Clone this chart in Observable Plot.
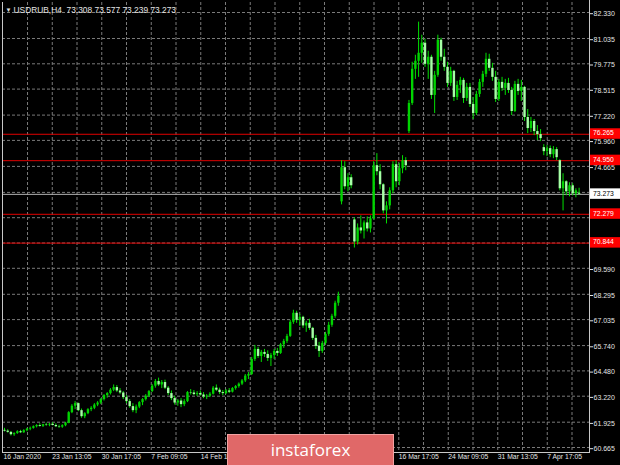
<!DOCTYPE html>
<html><head><meta charset="utf-8">
<script src="https://cdn.jsdelivr.net/npm/d3@7"></script>
<script src="https://cdn.jsdelivr.net/npm/@observablehq/plot@0.6"></script>
<style>
html,body{margin:0;padding:0;background:#000;}
#wrap{position:relative;width:620px;height:465px;overflow:hidden;background:#000;}
#wrap svg{position:absolute;left:0;top:0;}
#logo{position:absolute;left:227px;top:434px;width:167px;height:34px;background:#e06868;border:1px solid #f2a2a2;box-sizing:border-box;color:#fff;font:400 17px "Open Sans",sans-serif;text-align:center;line-height:29px;z-index:2;}
</style></head><body><div id="wrap"><div id="logo">instaforex</div></div>
<script>
const opens=[61.52,61.48,61.42,61.30,61.36,61.45,61.40,61.50,61.58,
61.62,61.70,61.76,61.72,61.80,61.78,61.82,61.76,61.70,61.68,61.75,
61.88,62.40,62.72, 62.85,62.50,62.20, 62.35,62.55,62.62,62.78,
62.88,63.05,63.25,63.35,63.52,63.65, 63.48,63.38,63.15,62.95,62.70,62.50,
62.68,62.90,63.05,63.22, 63.45,63.72,63.95,63.78,63.90,
63.62,63.35,63.10,62.88,62.98,62.80, 62.95,63.40,63.38,63.30,63.35,63.28,63.18,63.22,
63.32,63.62,63.52,63.40,63.35,63.48, 63.42,63.60,63.70,63.82,63.98,64.22,
64.30,65.05, 65.55,65.20,65.40,65.30,65.10,65.25, 65.45,65.35,65.78,65.95,
66.20,66.90,67.35,67.00, 67.15,66.72,66.85, 66.60,66.10,65.70, 65.45,65.85,66.30,
66.75,67.20,67.85, 72.90,74.60,73.65,74.10, 72.00,70.90, 71.60,71.45,71.85,71.55,
72.05,74.70,74.40, 73.75,72.45,72.70, 73.45,74.75,73.90,74.55,74.95,
76.40,77.80,79.50, 79.90, 80.30,80.80,79.75, 80.10,78.20, 79.20,80.95,80.10,
79.60,78.80, 79.40,78.10, 78.70,78.95,78.05, 78.60,77.75,77.30, 78.25,78.85,79.25,
80.00,79.55, 79.10,78.00, 78.85,78.55,78.80, 78.45,77.40, 78.75,78.40, 78.60,77.10,
76.55,76.90,76.40,76.25, 75.60,75.40,75.55,75.25,75.50, 74.95,73.55,73.90,73.40,73.70,73.30,73.308];
const highs=[61.62,61.55,61.46,61.40,61.50,61.52,61.55,61.62,61.68,
61.74,61.80,61.85,61.82,61.88,61.86,61.90,61.84,61.78,61.80,61.92,
62.45,62.80,62.95, 62.88,62.58,62.40, 62.60,62.70,62.85,62.95,
63.10,63.30,63.40,63.60,63.78,63.75, 63.60,63.45,63.25,63.05,62.85,62.78,
62.95,63.10,63.30,63.50, 63.80,64.05,64.12,64.00,64.02,
63.70,63.48,63.22,63.05,63.10,63.05, 63.45,63.55,63.50,63.45,63.48,63.40,63.30,63.40,
63.70,63.78,63.62,63.50,63.55,63.60, 63.65,63.75,63.88,64.05,64.30,64.40,
65.15,65.75, 65.65,65.50,65.55,65.48,65.35,65.55, 65.60,65.85,66.05,66.30,
67.00,67.50,67.45,67.30, 67.20,66.95,67.05, 66.65,66.25,65.90, 65.95,66.40,66.90,
67.30,67.95,68.40, 74.95,74.90,74.30,74.25, 72.10,71.80, 72.20,71.95,72.15,72.20,
74.90,75.30,74.75, 73.80,72.90,73.60, 74.90,74.95,74.80,75.20,75.10,
77.95,79.85,80.20, 81.85, 81.20,81.00,80.40, 80.20,79.40, 81.20,81.05,80.50,
79.85,79.60, 79.45,78.90, 79.10,79.05,78.80, 78.80,78.10,78.40, 79.00,79.40,80.30,
80.25,79.80, 79.40,79.00, 79.10,79.00,79.05, 78.60,78.90, 79.00,78.95, 78.65,77.50,
77.10,77.00,76.70,76.50, 75.75,75.70,75.68,75.65,75.60, 75.00,74.30,73.95,73.85,73.80,73.55,73.577];
const lows=[61.44,61.38,61.24,61.22,61.32,61.36,61.37,61.45,61.50,
61.58,61.64,61.68,61.66,61.72,61.70,61.74,61.66,61.62,61.62,61.70,
61.85,62.35,62.55, 62.45,62.12,62.10, 62.30,62.45,62.55,62.70,
62.80,62.98,63.12,63.28,63.45,63.40, 63.30,63.05,62.85,62.62,62.40,62.35,
62.60,62.75,62.98,63.15, 63.40,63.62,63.70,63.60,63.55,
63.25,63.00,62.78,62.72,62.65,62.70, 62.90,63.28,63.25,63.20,63.22,63.10,63.05,63.15,
63.28,63.45,63.30,63.25,63.30,63.35, 63.38,63.52,63.62,63.75,63.90,64.05,
64.25,64.95, 65.10,64.90,65.15,64.95,64.70,65.05, 65.20,65.30,65.60,65.85,
66.15,66.80,66.85,66.70, 66.60,66.40,66.50, 66.00,65.55,65.15, 65.35,65.75,66.20,
66.65,67.10,67.70, 72.75,73.50,73.40,73.55, 70.60,70.75, 71.30,71.05,71.40,71.35,
72.00,74.20,73.50, 72.30,71.80,72.50, 73.30,73.60,73.70,74.30,74.45,
76.30,77.70,79.00, 79.10, 79.80,79.60,79.00, 78.00,77.30, 79.10,79.90,79.40,
78.60,78.65, 77.90,77.95, 78.30,77.80,77.90, 77.60,77.00,77.20, 78.10,78.60,79.10,
79.40,78.90, 77.85,77.90, 78.40,78.20,78.30, 77.20,77.35, 78.20,77.90, 76.90,76.30,
76.35,76.20,75.95,75.90, 75.20,75.15,75.10,75.05,74.95, 73.45,72.45,73.20,73.15,73.20,73.10,73.239];
const closes=[61.48,61.42,61.30,61.36,61.45,61.40,61.50,61.58,61.62,
61.70,61.76,61.72,61.80,61.78,61.82,61.76,61.70,61.68,61.75,61.88,
62.40,62.72,62.85, 62.50,62.20,62.35, 62.55,62.62,62.78,62.88,
63.05,63.25,63.35,63.52,63.65,63.48, 63.38,63.15,62.95,62.70,62.50,62.68,
62.90,63.05,63.22,63.45, 63.72,63.95,63.78,63.90,63.62,
63.35,63.10,62.88,62.98,62.80,62.95, 63.40,63.38,63.30,63.35,63.28,63.18,63.22,63.32,
63.62,63.52,63.40,63.35,63.48,63.42, 63.60,63.70,63.82,63.98,64.22,64.30,
65.05,65.55, 65.20,65.40,65.30,65.10,65.25,65.45, 65.35,65.78,65.95,66.20,
66.90,67.35,67.00,67.15, 66.72,66.85,66.60, 66.10,65.70,65.45, 65.85,66.30,66.75,
67.20,67.85,68.20, 74.60,73.65,74.10,73.70, 70.90,71.60, 71.45,71.85,71.55,72.05,
74.70,74.40,73.75, 72.45,72.70,73.45, 74.75,73.90,74.55,74.95,74.70,
77.80,79.50,79.90, 80.30, 80.80,79.75,80.10, 78.20,79.20, 80.95,80.10,79.60,
78.80,79.40, 78.10,78.70, 78.95,78.05,78.60, 77.75,77.30,78.25, 78.85,79.25,80.00,
79.55,79.10, 78.00,78.85, 78.55,78.80,78.45, 77.40,78.75, 78.40,78.60, 77.10,76.55,
76.90,76.40,76.25,76.05, 75.40,75.55,75.25,75.50,75.10, 73.55,73.90,73.40,73.70,73.30,73.45,73.273];

const yTicks=[82.330,81.035,79.775,78.515,77.220,75.960,74.665,73.370,72.110,70.850,69.590,68.295,67.035,65.740,64.480,63.220,61.925,60.665];
const yTickLabels=[82.330,81.035,79.775,78.515,77.220,75.960,74.665,69.590,68.295,67.035,65.740,64.480,63.220,61.925,60.665];
const gridBars=[7.17,14.88,22.59,30.30,38.01,45.72,53.43,61.14,68.85,76.56,84.27,91.98,99.69,107.40,115.11,122.82,130.53,138.24,145.95,153.66,161.37,169.08,176.79];
const dateLabels=["16 Jan 2020","23 Jan 13:05","30 Jan 17:05","7 Feb 09:05","14 Feb 13:05","16 Mar 17:05","24 Mar 09:05","31 Mar 13:05","7 Apr 17:05"];
const dateBars=[-0.3,14.88,30.30,45.72,61.14,122.82,138.24,153.66,169.08];
const levels=[76.265,74.950,72.279,70.844];
const lastPrice=73.273;
const titleText="USDRUB,H4  73.308 73.577 73.239 73.273";

const bars=opens.map((o,i)=>({i,o,h:highs[i],l:lows[i],c:closes[i]}));
const up=bars.filter(d=>d.c>=d.o), dn=bars.filter(d=>d.c<d.o);
const FONT="'Liberation Sans', Arial, sans-serif";
const TXT="#e4e4e4", GRID="#7a7a7a";

const plot=Plot.plot({
  width:620,height:465,
  marginLeft:2,marginRight:31,marginTop:2,marginBottom:13,
  style:{background:"#000",fontFamily:FONT,fontSize:"7.3px",color:TXT},
  x:{type:"linear",domain:[0,179],range:[4,578.6],axis:null},
  y:{domain:[60.665,82.330],range:[447,12],axis:null},
  marks:[
    Plot.ruleY(yTicks,{stroke:GRID,strokeDasharray:"3,2"}),
    Plot.ruleX(gridBars,{stroke:GRID,strokeDasharray:"3,2"}),
    Plot.ruleY(levels,{stroke:"#e00000"}),
    Plot.ruleY([lastPrice],{stroke:"#b4b4b4"}),
    Plot.ruleX(bars,{x:"i",y1:"l",y2:"h",stroke:"#00e000",strokeWidth:1}),
    Plot.ruleX(up,{x:"i",y1:"o",y2:"c",stroke:"#00d400",strokeWidth:2.4}),
    Plot.ruleX(dn,{x:"i",y1:"o",y2:"c",stroke:"#a6ffa6",strokeWidth:2.4}),
    Plot.axisY(yTickLabels,{anchor:"right",tickSize:3,tickPadding:1,tickFormat:d=>d.toFixed(3),fill:TXT,fontSize:7,dy:1.2}),
    Plot.text(dateLabels,{x:(d,i)=>dateBars[i],text:d=>d,frameAnchor:"bottom",dy:6,textAnchor:"start",fill:TXT,fontSize:6.8}),
    Plot.text([titleText],{frameAnchor:"top-left",dx:11,dy:5,textAnchor:"start",fill:TXT,fontSize:8.4}),
    Plot.text(["▼"],{frameAnchor:"top-left",dx:3,dy:5,textAnchor:"start",fill:TXT,fontSize:6})
  ]
});

const sy=plot.scale("y");
const svg=d3.select(plot);
const g=svg.append("g").attr("font-family",FONT).attr("font-size","6.8px").attr("text-anchor","start");
// frame borders
g.append("line").attr("x1",2.5).attr("x2",2.5).attr("y1",2).attr("y2",452).attr("stroke","#c8c8c8");
g.append("line").attr("x1",589.5).attr("x2",589.5).attr("y1",0).attr("y2",452).attr("stroke","#c8c8c8");
g.append("line").attr("x1",2).attr("x2",590).attr("y1",452.5).attr("y2",452.5).attr("stroke","#c8c8c8");
// price labels
const tag=(v,bg,fg)=>{
  const y=sy.apply(v);
  g.append("rect").attr("x",590).attr("y",y-5.5).attr("width",30).attr("height",10.5).attr("fill",bg);
  g.append("text").attr("x",593).attr("y",y).attr("dy","0.25em").attr("text-anchor","start").attr("fill",fg).text(v.toFixed(3));
};
levels.forEach(v=>tag(v,"#ff0000","#ffffff"));
tag(lastPrice,"#ffffff","#000000");

const wrap=document.getElementById("wrap");
wrap.insertBefore(plot,wrap.firstChild);
</script>
</body></html>
